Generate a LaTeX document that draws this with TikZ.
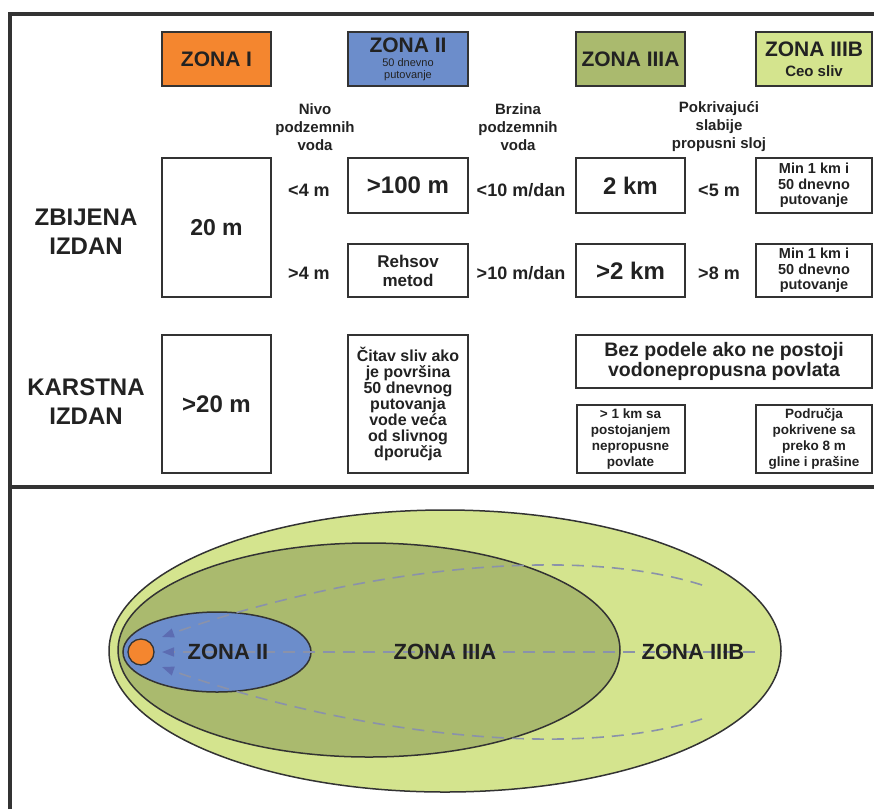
\documentclass[tikz,border=0pt]{standalone}
\usepackage{fontspec}
\setmainfont{Liberation Sans}
\usepackage{tikz}
\usetikzlibrary{arrows.meta}
\definecolor{zoneI}{RGB}{244,134,47}
\definecolor{zoneII}{RGB}{108,141,203}
\definecolor{zoneIIIA}{RGB}{170,186,110}
\definecolor{zoneIIIB}{RGB}{212,228,142}
\definecolor{ink}{RGB}{34,34,34}
\definecolor{boxline}{RGB}{51,51,51}
\definecolor{flowline}{RGB}{138,146,170}
\definecolor{flowtip}{RGB}{92,108,178}
\tikzstyle{Frame}=[line width=4pt, draw=boxline]
\tikzstyle{Zone}=[rectangle, draw=boxline, line width=1.6pt, inner sep=0pt, text=ink, align=center]
\tikzstyle{Cell}=[rectangle, draw=boxline, line width=2pt, fill=white, inner sep=0pt, text=ink, align=center]
\tikzstyle{Note}=[text=ink, align=center, inner sep=0pt]
\tikzstyle{Flow}=[line width=1.6pt, draw=flowline, dash pattern=on 12pt off 8pt, -{Triangle[length=12pt, width=9pt, color=flowtip]}]

\begin{document}
\begin{tikzpicture}[x=1pt, y=-1pt]
    \useasboundingbox (0,0) rectangle (874,809);
    \draw[Frame] (10,809) -- (10,14) -- (874,14);
    \draw[Frame] (10,487) -- (874,487);

    % zone headers
    \path
    (216.5,59) node[Zone, fill=zoneI, minimum width=109, minimum height=54, font=\bfseries\fontsize{21}{24}\selectfont] (zI) {ZONA I}
    (408,59) node[Zone, fill=zoneII, minimum width=120, minimum height=54, font=\bfseries\fontsize{21}{21}\selectfont] (zII) {ZONA II\\[-7pt]\mdseries\fontsize{11}{11}\selectfont 50 dnevno\\[-9pt]\mdseries\fontsize{11}{11}\selectfont putovanje}
    (630.5,59) node[Zone, fill=zoneIIIA, minimum width=109, minimum height=54, font=\bfseries\fontsize{21}{24}\selectfont] (zIIIA) {ZONA IIIA}
    (814,59) node[Zone, fill=zoneIIIB, minimum width=116, minimum height=54, font=\bfseries\fontsize{21}{21}\selectfont] (zIIIB) {ZONA IIIB\\[-1pt]\fontsize{15}{15}\selectfont Ceo sliv};

    \path
    (315,127) node[Note, font=\bfseries\fontsize{15}{18}\selectfont] (nivo) {Nivo\\podzemnih\\voda}
    (518,127) node[Note, font=\bfseries\fontsize{15}{18}\selectfont] (brzina) {Brzina\\podzemnih\\voda}
    (719,127) node[Note, font=\bfseries\fontsize{15}{18}\selectfont] (pokriv) {Pokrivajući\\slabije\\propusni sloj};

    % zbijena izdan
    \path
    (86,232) node[Note, font=\bfseries\fontsize{24}{29}\selectfont] (zbijena) {ZBIJENA\\IZDAN}
    (216.5,227.5) node[Cell, minimum width=109, minimum height=139, font=\bfseries\fontsize{23}{26}\selectfont] (zbI) {20 m}
    (408,185.5) node[Cell, minimum width=120, minimum height=55, font=\bfseries\fontsize{24}{26}\selectfont] (zbIIa) {>100 m}
    (408,270.5) node[Cell, minimum width=120, minimum height=53, font=\bfseries\fontsize{17}{19}\selectfont] (zbIIb) {Rehsov\\metod}
    (630.5,185.5) node[Cell, minimum width=109, minimum height=55, font=\bfseries\fontsize{24}{26}\selectfont] (zbIIIAa) {2 km}
    (630.5,270.5) node[Cell, minimum width=109, minimum height=53, font=\bfseries\fontsize{24}{26}\selectfont] (zbIIIAb) {>2 km}
    (814,185.5) node[Cell, minimum width=116, minimum height=55, font=\bfseries\fontsize{14.5}{15.5}\selectfont] (zbIIIBa) {Min 1 km i\\50 dnevno\\putovanje}
    (814,270.5) node[Cell, minimum width=116, minimum height=53, font=\bfseries\fontsize{14.5}{15.5}\selectfont] (zbIIIBb) {Min 1 km i\\50 dnevno\\putovanje};

    \path
    (309,190) node[Note, font=\bfseries\fontsize{18}{20}\selectfont] (nivoA) {<4 m}
    (309,273) node[Note, font=\bfseries\fontsize{18}{20}\selectfont] (nivoB) {>4 m}
    (521,190) node[Note, font=\bfseries\fontsize{18}{20}\selectfont] (brzA) {<10 m/dan}
    (521,273) node[Note, font=\bfseries\fontsize{18}{20}\selectfont] (brzB) {>10 m/dan}
    (719,190) node[Note, font=\bfseries\fontsize{18}{20}\selectfont] (pokA) {<5 m}
    (719,273) node[Note, font=\bfseries\fontsize{18}{20}\selectfont] (pokB) {>8 m};

    % karstna izdan
    \path
    (86,402) node[Note, font=\bfseries\fontsize{24}{29}\selectfont] (karstna) {KARSTNA\\IZDAN}
    (216.5,404) node[Cell, minimum width=109, minimum height=138, font=\bfseries\fontsize{24}{26}\selectfont] (kaI) {>20 m}
    (408,404) node[Cell, minimum width=120, minimum height=138, font=\bfseries\fontsize{16}{16}\selectfont] (kaII) {Čitav sliv ako\\je površina\\50 dnevnog\\putovanja\\vode veća\\od slivnog\\dporučja}
    (724,361.5) node[Cell, minimum width=296, minimum height=53, font=\bfseries\fontsize{19.5}{20.5}\selectfont] (kaIII) {Bez podele ako ne postoji\\vodonepropusna povlata}
    (630.5,439) node[Cell, minimum width=108, minimum height=68, font=\bfseries\fontsize{13.5}{16}\selectfont] (kaIIIA) {> 1 km sa\\postojanjem\\nepropusne\\povlate}
    (814,439) node[Cell, minimum width=116, minimum height=68, font=\bfseries\fontsize{13.5}{16}\selectfont] (kaIIIB) {Područja\\pokrivene sa\\preko 8 m\\gline i prašine};

    % protection zones around the well
    \draw[boxline, line width=1.5pt, fill=zoneIIIB] (445,651) ellipse [x radius=336, y radius=141];
    \draw[boxline, line width=1.5pt, fill=zoneIIIA] (369,650) ellipse [x radius=251, y radius=107];
    \draw[boxline, line width=1.5pt, fill=zoneII] (217,652) ellipse [x radius=94, y radius=40];
    \path (141,652) node[circle, draw=boxline, line width=1.3pt, fill=zoneI, minimum size=26, inner sep=0pt] (well) {};

    \coordinate (tipN) at (162,637);
    \coordinate (tipM) at (162,652);
    \coordinate (tipS) at (162,667);
    \coordinate (endN) at (702,585);
    \coordinate (endM) at (755,652);
    \coordinate (endS) at (702,719);
    \draw[Flow] (endM) -- (tipM);
    \draw[Flow] (endN) .. controls (560,540) and (330,577) .. (tipN);
    \draw[Flow] (endS) .. controls (560,764) and (330,727) .. (tipS);

    \path
    (228,652) node[Note, font=\bfseries\fontsize{22}{24}\selectfont] (lII) {ZONA II}
    (445,652) node[Note, font=\bfseries\fontsize{22}{24}\selectfont] (lIIIA) {ZONA IIIA}
    (693,652) node[Note, font=\bfseries\fontsize{22}{24}\selectfont] (lIIIB) {ZONA IIIB};
\end{tikzpicture}
\end{document}
